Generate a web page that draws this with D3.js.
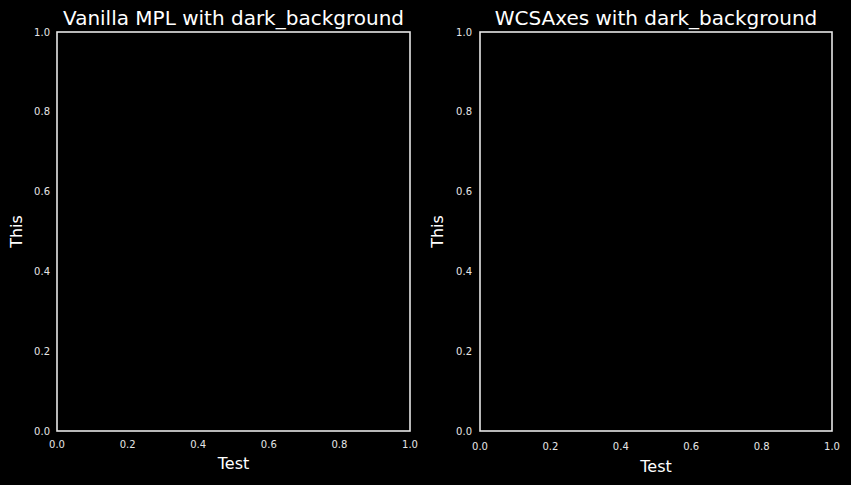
<!DOCTYPE html>
<html>
<head>
<meta charset="utf-8">
<script src="https://cdn.jsdelivr.net/npm/d3@7"></script>
<style>
  body { margin: 0; background: #000; }
  svg { display: block; font-family: "DejaVu Sans", sans-serif; }
</style>
</head>
<body>
<svg id="chart" width="851" height="485"></svg>
<script>
// chart data
var titles = ["Vanilla MPL with dark_background", "WCSAxes with dark_background"];
var xLabels = ["Test", "Test"];
var yLabels = ["This", "This"];
var xDomain = [0, 1];
var yDomain = [0, 1];
var tickValues = [0, 0.2, 0.4, 0.6, 0.8, 1.0];

var svg = d3.select("#chart");
svg.append("rect").attr("width", 851).attr("height", 485).attr("fill", "#000");

// panel boxes, the wcs one puts its x labels a bit lower
var panels = [
    {left: 57, right: 410, top: 32, bottom: 431, xTickY: 448, xLabelY: 469, yLabelX: 22, yTickX: 50},
    {left: 480, right: 832, top: 32, bottom: 431, xTickY: 449.5, xLabelY: 472, yLabelX: 443, yTickX: 472}
];

panels.forEach(function(p, i){
    var x = d3.scaleLinear().domain(xDomain).range([p.left, p.right]);
    var y = d3.scaleLinear().domain(yDomain).range([p.bottom, p.top]);
    var g = svg.append("g");

    g.append("rect")
        .attr("x", p.left).attr("y", p.top)
        .attr("width", p.right - p.left).attr("height", p.bottom - p.top)
        .attr("fill", "#000")
        .attr("stroke", "#e6e6e6")
        .attr("stroke-width", 1.6);

    g.selectAll(".xt")
        .data(tickValues)
        .enter()
        .append("text")
        .attr("x", function(d){ return x(d); })
        .attr("y", p.xTickY)
        .attr("text-anchor", "middle")
        .attr("fill", "#e6e6e6")
        .style("font-size", "10px")
        .text(d3.format(".1f"));

    g.selectAll(".yt")
        .data(tickValues)
        .enter()
        .append("text")
        .attr("x", p.yTickX)
        .attr("y", function(d){ return y(d) + 3.5; })
        .attr("text-anchor", "end")
        .attr("fill", "#e6e6e6")
        .style("font-size", "10px")
        .text(d3.format(".1f"));

    g.append("text")
        .attr("x", (p.left + p.right) / 2)
        .attr("y", 25)
        .attr("text-anchor", "middle")
        .attr("fill", "#fff")
        .style("font-size", "20px")
        .text(titles[i]);

    g.append("text")
        .attr("x", (p.left + p.right) / 2)
        .attr("y", p.xLabelY)
        .attr("text-anchor", "middle")
        .attr("fill", "#fff")
        .style("font-size", "16px")
        .text(xLabels[i]);

    g.append("text")
        .attr("transform", "translate(" + p.yLabelX + "," + ((p.top + p.bottom) / 2) + ") rotate(-90)")
        .attr("text-anchor", "middle")
        .attr("fill", "#fff")
        .style("font-size", "16px")
        .text(yLabels[i]);
});
</script>
</body>
</html>
